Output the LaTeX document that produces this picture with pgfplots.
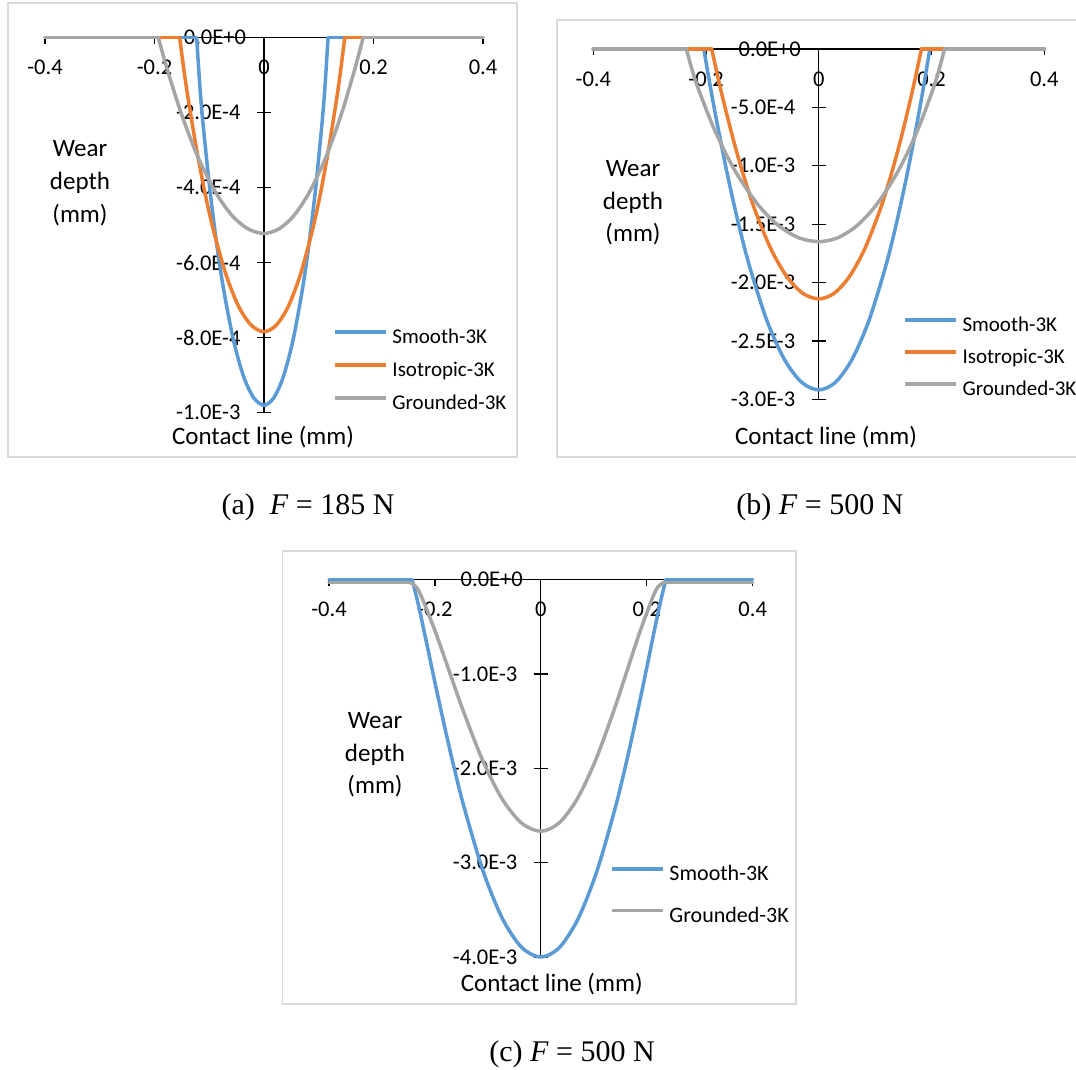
\documentclass[border=0pt]{standalone}
\usepackage{fontspec}
\setmainfont{Carlito}
\newfontfamily\capfont{Liberation Serif}
\usepackage{pgfplots}
\pgfplotsset{compat=1.18}
\definecolor{sblue}{HTML}{5B9BD5}
\definecolor{sorange}{HTML}{ED7D31}
\definecolor{sgray}{HTML}{A5A5A5}
\definecolor{framec}{HTML}{D9D9D9}
\newcommand{\tkf}{\fontsize{22.5bp}{26bp}\selectfont}
\pgfplotsset{wearax/.style={
  scale only axis, clip=false,
  axis lines=middle, axis line style={-, black, line width=1.2bp},
  xmin=-0.4, xmax=0.4, scaled y ticks=false, scaled x ticks=false,
  xtick={-0.4,-0.2,0,0.2,0.4}, xticklabels={-0.4,-0.2,0,0.2,0.4},
  tick align=center, major tick length=14bp,
  xtick style={draw=none},
  ytick style={black, line width=1.2bp},
  ticklabel style={font=\tkf},
  xticklabel style={anchor=center, yshift=-23bp},
  yticklabel style={anchor=east, xshift=-13bp},
  legend cell align=left,
  legend style={draw=none, fill=none, inner sep=0pt, outer sep=0pt, anchor=north west,
    font=\fontsize{21bp}{25bp}\selectfont, row sep=13bp, column sep=5bp,
    nodes={inner sep=0pt, text height=15bp, text depth=5bp}},
  legend image code/.code={\draw[#1, line width=3.5bp, line cap=butt] (0bp,6.5bp) -- (51bp,6.5bp);},
  every axis plot/.append style={line width=3.5bp, line join=round, line cap=round},
  dip/.style={smooth, tension=0.5},
  flat/.style={forget plot},
}}
\newcommand{\ttl}{\fontsize{25bp}{33bp}\selectfont}
\newcommand{\capf}{\capfont\fontsize{30bp}{34bp}\selectfont}
\newcommand{\xticks}{%
  \pgfplotsinvokeforeach{-0.4,-0.2,0.2,0.4}{\draw[black, line width=1.2bp] (axis cs:##1,0) -- ++(0pt,-6bp);}%
  \node[font=\tkf, anchor=center] at (axis cs:0,0) [yshift=-30bp] {0};%
  \node[font=\tkf, anchor=east] at (axis cs:0,0) [xshift=-14.5bp] {0.0E+0};}
\begin{document}
\begin{tikzpicture}
\useasboundingbox (0,0) rectangle (1076bp,-1070bp);
\fill[white] (0,0) rectangle (1076bp,-1070bp);
% frames
\draw[framec, line width=1.5bp] (8bp,-3bp) rectangle (517bp,-457bp);
\draw[framec, line width=1.5bp] (557bp,-20bp) rectangle (1090bp,-457bp);
\draw[framec, line width=1.5bp] (282.7bp,-551bp) rectangle (796bp,-1004bp);

% ---------- (a)
\begin{axis}[wearax, at={(45bp,-37.7bp)}, anchor=north west, width=438bp, height=375bp,
  ymin=-1e-3, ymax=0,
  ytick={-1e-3,-8e-4,-6e-4,-4e-4,-2e-4,0},
  yticklabels={-1.0E-3,-8.0E-4,-6.0E-4,-4.0E-4,-2.0E-4,0.0E+0},
  legend style={at={(0.6575,0.2245)}}]
\xticks
\addplot[sblue, flat] coordinates {(-0.4,0) (-0.123,0)};
\addplot[sblue, flat] coordinates {(0.117,0) (0.4,0)};
\addplot[sblue, dip] coordinates {(-0.123,0) (-0.11685,-1.35e-4) (-0.1107,-2.39e-4) (-0.0984,-4.11e-4) (-0.0861,-5.53e-4) (-0.0738,-6.71e-4) (-0.05535,-8.09e-4) (-0.0369,-9.05e-4) (-0.01845,-9.61e-4) (0,-9.80e-4) (0.01755,-9.61e-4) (0.0351,-9.05e-4) (0.05265,-8.09e-4) (0.0702,-6.71e-4) (0.0819,-5.53e-4) (0.0936,-4.11e-4) (0.1053,-2.39e-4) (0.11115,-1.35e-4) (0.117,0)};
\addlegendentry{Smooth-3K}
\addplot[sorange, flat] coordinates {(-0.4,0) (-0.154,0)};
\addplot[sorange, flat] coordinates {(0.1475,0) (0.4,0)};
\addplot[sorange, dip] coordinates {(-0.154,0) (-0.1463,-0.86e-4) (-0.1386,-1.62e-4) (-0.1232,-2.97e-4) (-0.1078,-4.14e-4) (-0.0924,-5.13e-4) (-0.0693,-6.32e-4) (-0.0462,-7.17e-4) (-0.0231,-7.67e-4) (0,-7.84e-4) (0.0221,-7.67e-4) (0.04425,-7.17e-4) (0.0664,-6.32e-4) (0.0885,-5.13e-4) (0.1033,-4.14e-4) (0.118,-2.97e-4) (0.1328,-1.62e-4) (0.1401,-0.86e-4) (0.1475,0)};
\addlegendentry{Isotropic-3K}
\addplot[sgray, flat] coordinates {(-0.4,0) (-0.193,0)};
\addplot[sgray, flat] coordinates {(0.181,0) (0.4,0)};
\addplot[sgray, dip] coordinates {(-0.193,0) (-0.18335,-0.51e-4) (-0.1737,-0.99e-4) (-0.1544,-1.88e-4) (-0.1351,-2.66e-4) (-0.1158,-3.34e-4) (-0.08685,-4.16e-4) (-0.0579,-4.75e-4) (-0.02895,-5.10e-4) (0,-5.22e-4) (0.02715,-5.10e-4) (0.0543,-4.75e-4) (0.08145,-4.16e-4) (0.1086,-3.34e-4) (0.1267,-2.66e-4) (0.1448,-1.88e-4) (0.1629,-0.99e-4) (0.17195,-0.51e-4) (0.181,0)};
\addlegendentry{Grounded-3K}
\end{axis}
\node[font=\ttl, align=center] at (80bp,-183bp) {Wear\\depth\\(mm)};
\node[font=\ttl] at (263bp,-437bp) {Contact line (mm)};

% ---------- (b)
\begin{axis}[wearax, at={(593.3bp,-49bp)}, anchor=north west, width=451bp, height=350.3bp,
  ymin=-3e-3, ymax=0,
  ytick={-3e-3,-2.5e-3,-2e-3,-1.5e-3,-1e-3,-5e-4,0},
  yticklabels={-3.0E-3,-2.5E-3,-2.0E-3,-1.5E-3,-1.0E-3,-5.0E-4,0.0E+0},
  legend style={at={(0.6867,0.2364)}, row sep=12bp}]
\xticks
\addplot[sblue, flat] coordinates {(-0.4,0) (-0.204,0)};
\addplot[sblue, flat] coordinates {(0.197,0) (0.4,0)};
\addplot[sblue, dip] coordinates {(-0.204,0) (-0.1938,-0.285e-3) (-0.1836,-0.555e-3) (-0.1632,-1.051e-3) (-0.1428,-1.489e-3) (-0.1224,-1.869e-3) (-0.0918,-2.329e-3) (-0.0612,-2.657e-3) (-0.0306,-2.854e-3) (0,-2.92e-3) (0.02955,-2.854e-3) (0.0591,-2.657e-3) (0.08865,-2.329e-3) (0.1182,-1.869e-3) (0.1379,-1.489e-3) (0.1576,-1.051e-3) (0.1773,-0.555e-3) (0.18715,-0.285e-3) (0.197,0)};
\addlegendentry{Smooth-3K}
\addplot[sorange, flat] coordinates {(-0.4,0) (-0.19,0)};
\addplot[sorange, flat] coordinates {(0.182,0) (0.4,0)};
\addplot[sorange, dip] coordinates {(-0.19,0) (-0.1805,-0.209e-3) (-0.171,-0.407e-3) (-0.152,-0.770e-3) (-0.133,-1.091e-3) (-0.114,-1.370e-3) (-0.0855,-1.707e-3) (-0.057,-1.947e-3) (-0.0285,-2.092e-3) (0,-2.14e-3) (0.0273,-2.092e-3) (0.0546,-1.947e-3) (0.0819,-1.707e-3) (0.1092,-1.370e-3) (0.1274,-1.091e-3) (0.1456,-0.770e-3) (0.1638,-0.407e-3) (0.1729,-0.209e-3) (0.182,0)};
\addlegendentry{Isotropic-3K}
\addplot[sgray, flat] coordinates {(-0.4,0) (-0.235,0)};
\addplot[sgray, flat] coordinates {(0.223,0) (0.4,0)};
\addplot[sgray, dip] coordinates {(-0.235,0) (-0.22325,-0.203e-3) (-0.2115,-0.370e-3) (-0.188,-0.658e-3) (-0.1645,-0.900e-3) (-0.141,-1.104e-3) (-0.10575,-1.346e-3) (-0.0705,-1.516e-3) (-0.03525,-1.617e-3) (0,-1.65e-3) (0.03345,-1.617e-3) (0.0669,-1.516e-3) (0.10035,-1.346e-3) (0.1338,-1.104e-3) (0.1561,-0.900e-3) (0.1784,-0.658e-3) (0.2007,-0.370e-3) (0.21185,-0.203e-3) (0.223,0)};
\addlegendentry{Grounded-3K}
\end{axis}
\node[font=\fontsize{25bp}{32.5bp}\selectfont, align=center] at (633bp,-203bp) {Wear\\depth\\(mm)};
\node[font=\ttl] at (826bp,-437bp) {Contact line (mm)};

% ---------- (c)
\begin{axis}[wearax, at={(329bp,-579.7bp)}, anchor=north west, width=423.7bp, height=377.3bp,
  ymin=-4e-3, ymax=0,
  ytick={-4e-3,-3e-3,-2e-3,-1e-3,0},
  yticklabels={-4.0E-3,-3.0E-3,-2.0E-3,-1.0E-3,0.0E+0},
  legend style={at={(0.6632,0.2425)}, row sep=21.7bp, font=\fontsize{22bp}{26bp}\selectfont}]
\xticks
\addplot[sblue, flat] coordinates {(-0.4,0) (-0.243,0)};
\addplot[sblue, flat] coordinates {(0.236,0) (0.4,0)};
\addplot[sblue, dip] coordinates {(-0.243,0) (-0.23085,-0.275e-3) (-0.2187,-0.592e-3) (-0.1944,-1.235e-3) (-0.1701,-1.844e-3) (-0.1458,-2.394e-3) (-0.10935,-3.084e-3) (-0.0729,-3.589e-3) (-0.03645,-3.897e-3) (0,-4.0e-3) (0.0354,-3.897e-3) (0.0708,-3.589e-3) (0.1062,-3.084e-3) (0.1416,-2.394e-3) (0.1652,-1.844e-3) (0.1888,-1.235e-3) (0.2124,-0.592e-3) (0.2242,-0.275e-3) (0.236,0)};
\addlegendentry{Smooth-3K}
\addplot[sgray, flat] coordinates {(-0.4,-0.03e-3) (-0.247,-0.03e-3)};
\addplot[sgray, flat] coordinates {(0.232,-0.03e-3) (0.4,-0.03e-3)};
\addplot[sgray, dip] coordinates {(-0.247,-0.03e-3) (-0.23465,-0.081e-3) (-0.2223,-0.221e-3) (-0.1976,-0.576e-3) (-0.1729,-0.971e-3) (-0.1482,-1.365e-3) (-0.11115,-1.899e-3) (-0.0741,-2.315e-3) (-0.03705,-2.577e-3) (0,-2.667e-3) (0.0348,-2.577e-3) (0.0696,-2.315e-3) (0.1044,-1.899e-3) (0.1392,-1.365e-3) (0.1624,-0.971e-3) (0.1856,-0.576e-3) (0.2088,-0.221e-3) (0.2204,-0.081e-3) (0.232,-0.03e-3)};
\addlegendentry{Grounded-3K}
\end{axis}
\node[font=\fontsize{25bp}{32.5bp}\selectfont, align=center] at (375bp,-755bp) {Wear\\depth\\(mm)};
\node[font=\ttl] at (551.7bp,-984bp) {Contact line (mm)};

% captions
\node[font=\capf] at (308bp,-507bp) {(a)\ \ \textit{F} = 185 N};
\node[font=\capf] at (820bp,-507bp) {(b) \textit{F} = 500 N};
\node[font=\capf] at (572bp,-1054bp) {(c) \textit{F} = 500 N};
\end{tikzpicture}
\end{document}
